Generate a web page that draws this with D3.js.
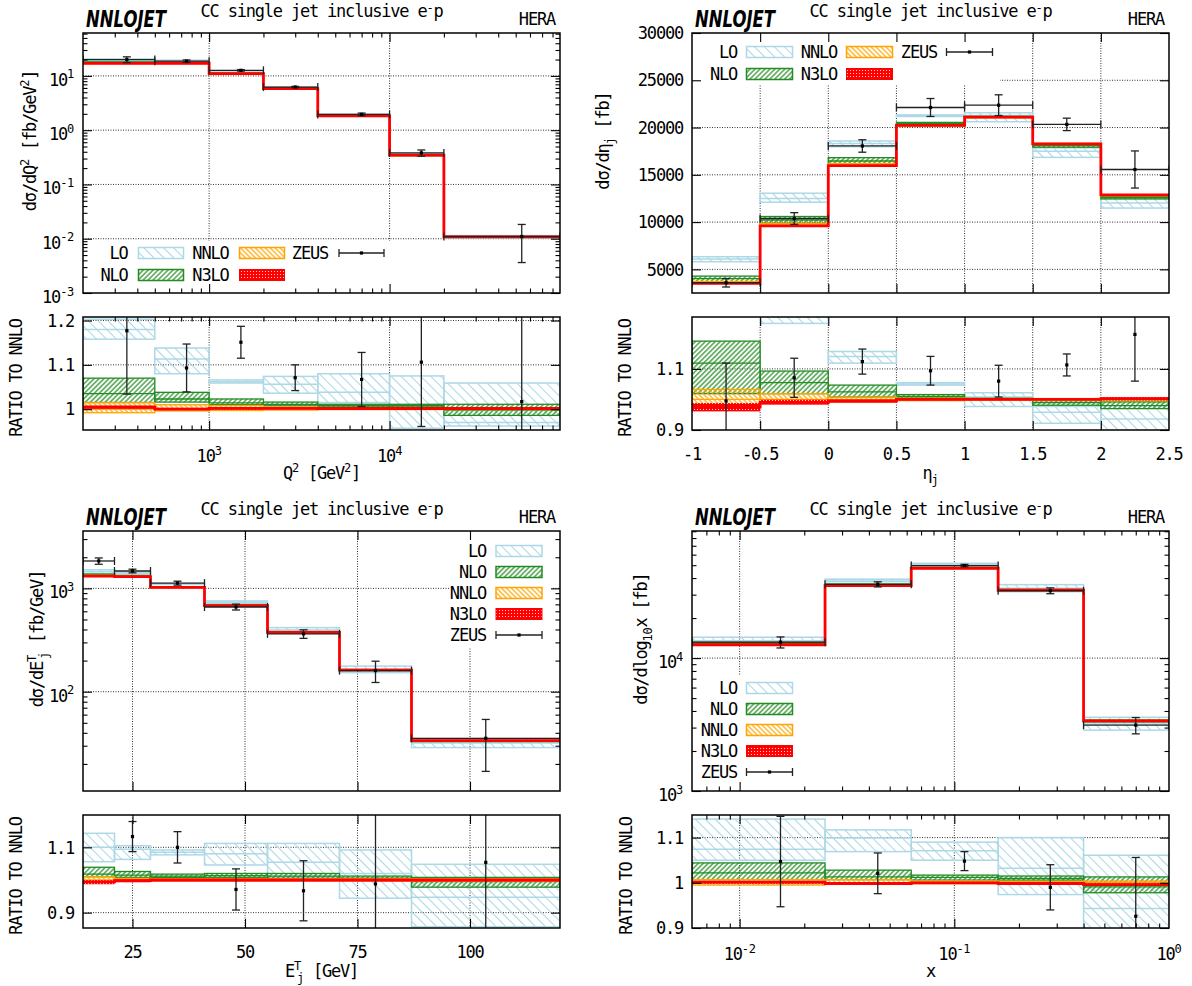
<!DOCTYPE html>
<html><head><meta charset="utf-8">
<script src="https://cdn.jsdelivr.net/npm/d3@7"></script>
<style>
body{margin:0;background:#fff;}
svg text{font-family:"DejaVu Sans Mono",monospace;font-size:17px;letter-spacing:-1.2px;fill:#000;}
</style></head><body>
<svg id="chart" width="1192" height="986"></svg>
<script>
// ================= DATA =================
// Q^2 distribution
const q2Edges=[200,500,1000,2000,4000,10000,20000,88000];
const q2NNLO=[17.0,17.1,11.0,5.82,1.83,0.345,0.0108];
const q2LO=[[1.158,1.180,1.203],[1.080,1.113,1.138],[1.059,1.062,1.066],[1.036,1.056,1.074],[1.015,1.038,1.080],[0.957,1.010,1.075],[0.962,0.970,1.059]];
const q2NLO=[[1.015,1.035,1.070],[1.016,1.023,1.038],[1.010,1.014,1.023],[1.0075,1.011,1.016],[1.005,1.008,1.011],[1.005,1.008,1.011],[0.986,0.998,1.011]];
const q2NNLOband=[[0.992,1,1.015],[0.996,1,1.010],[0.997,1,1.008],[0.998,1,1.005],[0.999,1,1.003],[0.999,1,1.003],[0.999,1,1.002]];
const q2N3LO=[[1.001,1.0045,1.008],[0.998,1.000,1.003],[0.999,1.002,1.004],[1.000,1.002,1.004],[1.000,1.0015,1.003],[1.000,1.0015,1.003],[1.000,1.0015,1.003]];
const q2Data=[1.177,1.093,1.151,1.071,1.067,1.106,1.017];
const q2Err=[0.143,0.054,0.036,0.029,0.061,0.145,0.68];
const q2YRange=[1e-3,61.7], q2RRange=[0.953,1.208];
const q2XTicks=[1e3,1e4], q2YTicks=[1e-3,1e-2,1e-1,1,10], q2RTicks=[1,1.1,1.2];

// eta distribution
const etaEdges=[-1,-0.5,0,0.5,1,1.5,2,2.5];
const etaNNLO=[3600,9690,16060,20220,21100,18270,12830];
const etaLO=[[1.614,1.694,1.761],[1.249,1.290,1.347],[1.119,1.141,1.157],[1.047,1.051,1.055],[0.977,1.008,1.022],[0.922,0.958,0.977],[0.895,0.936,0.997]];
const etaNLO=[[1.019,1.119,1.191],[1.019,1.055,1.093],[1.008,1.025,1.047],[1.005,1.010,1.016],[0.998,1.001,1.004],[0.981,0.990,0.997],[0.970,0.980,0.992]];
const etaNNLOband=[[0.986,1,1.033],[0.997,1,1.019],[0.992,1,1.008],[0.996,1,1.004],[0.997,1,1.003],[0.997,1,1.003],[0.996,1,1.004]];
const etaN3LO=[[0.961,0.975,0.988],[0.983,0.990,0.999],[0.990,0.995,0.999],[0.997,1.000,1.002],[0.998,1.000,1.002],[0.998,1.000,1.003],[0.997,1.003,1.008]];
const etaData=[0.995,1.071,1.124,1.094,1.060,1.113,1.213];
const etaErr=[0.124,0.064,0.041,0.047,0.052,0.036,0.153];
const etaYRange=[2500,30000], etaRRange=[0.9,1.27];
const etaXTicks=[-1,-0.5,0,0.5,1,1.5,2,2.5], etaYTicks=[5000,10000,15000,20000,25000,30000], etaRTicks=[0.9,1.1];

// E_T distribution
const etEdges=[14,21,29,41,55,71,87,120];
const etNNLO=[1324,1300,1022,680,375,162,33.6];
const etLO=[[1.056,1.100,1.143],[1.063,1.094,1.105],[1.077,1.085,1.092],[1.046,1.080,1.112],[1.010,1.054,1.112],[0.944,1.020,1.092],[0.857,0.947,1.048]];
const etNLO=[[1.010,1.018,1.039],[1.008,1.015,1.026],[1.008,1.012,1.018],[1.007,1.013,1.020],[1.005,1.012,1.020],[1.002,1.006,1.012],[0.978,0.995,1.008]];
const etNNLOband=[[0.995,1,1.010],[0.997,1,1.005],[0.997,1,1.004],[0.997,1,1.004],[0.997,1,1.004],[0.997,1,1.004],[0.996,1,1.004]];
const etN3LO=[[0.987,0.994,0.999],[0.993,0.998,1.002],[0.996,1.000,1.003],[0.996,1.000,1.003],[0.996,1.000,1.003],[0.996,1.000,1.003],[0.996,1.000,1.003]];
const etData=[1.390,1.133,1.100,0.971,0.967,0.988,1.054];
const etErr=[0.098,0.046,0.048,0.063,0.092,0.23,0.55];
const etYRange=[10.94,3590], etRRange=[0.853,1.199];
const etXTicks=[25,50,75,100], etYTicks=[100,1000], etRTicks=[0.9,1.1];

// x distribution
const xEdges=[0.006,0.025,0.063,0.16,0.4,1.0];
const xNNLO=[12580,35150,47400,32450,3380];
const xLO=[[1.050,1.074,1.141],[1.069,1.099,1.117],[1.050,1.071,1.090],[0.974,1.032,1.100],[0.850,0.943,1.061]];
const xNLO=[[1.007,1.022,1.044],[1.007,1.013,1.028],[1.006,1.012,1.017],[1.006,1.010,1.015],[0.978,0.991,1.013]];
const xNNLOband=[[0.995,1,1.007],[0.997,1,1.007],[0.998,1,1.004],[0.998,1,1.003],[0.997,1,1.004]];
const xN3LO=[[0.998,1.0015,1.004],[0.996,0.9985,1.001],[0.998,1.000,1.002],[0.996,0.9985,1.001],[0.993,0.996,0.999]];
const xData=[1.047,1.021,1.048,0.990,0.926];
const xErr=[0.100,0.045,0.021,0.050,0.130];
const xYRange=[1000,90400], xRRange=[0.9,1.15];
const xXTicks=[0.01,0.1,1], xYTicks=[1000,10000], xRTicks=[0.9,1,1.1];

const legendLabels=['LO','NLO','NNLO','N3LO','ZEUS'];

// ================= STYLE / LAYOUT =================
const orders=[
  {key:'LO',  color:'#add8e6', pat:'hLO',  bw:1.5, cw:1.5},
  {key:'NLO', color:'#228b22', pat:'hNLO', bw:1.3, cw:1.3},
  {key:'NNLO',color:'#ffa500', pat:'hNNLO',bw:1.3, cw:1.3},
  {key:'N3LO',color:'#ff0000', pat:'hN3LO',bw:0,   cw:2.8}
];
const dataColor='#222';
const COL={L:{x0:83,x1:560},R:{x0:692,x1:1169}};
const ROW={T:{t:33,b:293,rt:317,rb:430,off:0},B:{t:531,b:791,rt:815,rb:928,off:498}};

const svg=d3.select('#chart');
const defs=svg.append('defs');
function hatch(id,color,s,angle,w){
  const p=defs.append('pattern').attr('id',id).attr('patternUnits','userSpaceOnUse')
    .attr('width',s).attr('height',s).attr('patternTransform',`rotate(${angle})`);
  p.append('line').attr('x1',s/2).attr('y1',0).attr('x2',s/2).attr('y2',s).attr('stroke',color).attr('stroke-width',w);
}
hatch('hLO','#add8e6',7,-45,1.1);
hatch('hNLO','#228b22',3.5,45,1.2);
hatch('hNNLO','#ffa500',3.5,-45,1.2);
{
  const p=defs.append('pattern').attr('id','hN3LO').attr('patternUnits','userSpaceOnUse').attr('width',3).attr('height',3);
  p.append('rect').attr('width',3).attr('height',3).attr('fill','#ff0000');
  p.append('rect').attr('x',1).attr('y',1).attr('width',1).attr('height',1).attr('fill','#ffd0d0');
}

function rich(g,segs,supShift){
  const t=g.append('text');
  let cur=0;
  const sUp=supShift||-7.5;
  segs.forEach(([s,kind])=>{
    const sp=t.append('tspan').text(s);
    let target=0;
    if(kind==='sup'){target=sUp;}
    else if(kind==='sub'||kind==='subAfter'){target=4.5;}
    if(target-cur!==0) sp.attr('dy',target-cur);
    cur=target;
    if(kind){sp.attr('font-size',12).style('letter-spacing','-0.3px');}
    if(kind==='subAfter') sp.attr('dx',-4);
  });
  return t;
}
function logMinor(lo,hi){
  const out=[];
  for(let e=Math.floor(Math.log10(lo));e<=Math.ceil(Math.log10(hi));e++)
    for(let k=2;k<=9;k++){const v=k*Math.pow(10,e); if(v>lo*1.0001&&v<hi*0.9999) out.push(v);}
  return out;
}
const powLabel=v=>[['10'],[String(Math.round(Math.log10(v))),'sup']];
const titleSegs=[['CC single jet inclusive e'],['-','sup'],['p']];

const panels=[
 {col:'L',row:'T',edges:q2Edges,nnlo:q2NNLO,bands:{LO:q2LO,NLO:q2NLO,NNLO:q2NNLOband,N3LO:q2N3LO},data:q2Data,err:q2Err,
  xLog:true,yLog:true,yRange:q2YRange,rRange:q2RRange,xTicks:q2XTicks,yTicks:q2YTicks,rTicks:q2RTicks,
  xFmt:powLabel,yFmt:powLabel,rFmt:v=>[[String(v)]],
  ylab:[['dσ/dQ'],['2','sup'],[' [fb/GeV'],['2','sup'],[']']], ylabX:36, rlabX:22,
  xlab:[['Q'],['2','sup'],[' [GeV'],['2','sup'],[']']],
  leg:{bg:[83,241,398,293],textX:[127.5,228.5,328],rowY:[253,275],pos:i=>[Math.floor(i/2),i%2],gap:11,w:45}},
 {col:'R',row:'T',edges:etaEdges,nnlo:etaNNLO,bands:{LO:etaLO,NLO:etaNLO,NNLO:etaNNLOband,N3LO:etaN3LO},data:etaData,err:etaErr,
  xLog:false,yLog:false,yRange:etaYRange,rRange:etaRRange,xTicks:etaXTicks,yTicks:etaYTicks,rTicks:etaRTicks,
  xFmt:v=>[[String(v)]],yFmt:v=>[[String(v)]],rFmt:v=>[[String(v)]],
  ylab:[['dσ/dη'],['j','sub'],[' [fb]']], ylabX:609, rlabX:631,
  xlab:[['η'],['j','sub']],
  leg:{bg:[692,33,1000,85],textX:[737,837,937],rowY:[52,74],pos:i=>[Math.floor(i/2),i%2],gap:9.5,w:46}},
 {col:'L',row:'B',edges:etEdges,nnlo:etNNLO,bands:{LO:etLO,NLO:etNLO,NNLO:etNNLOband,N3LO:etN3LO},data:etData,err:etErr,
  xLog:false,yLog:true,yRange:etYRange,rRange:etRRange,xTicks:etXTicks,yTicks:etYTicks,rTicks:etRTicks,
  xFmt:v=>[[String(v)]],yFmt:powLabel,rFmt:v=>[[String(v)]],
  ylab:[['dσ/dE'],['T','sup'],['j','subAfter'],[' [fb/GeV]']], ylabX:43, rlabX:22,
  xlab:[['E'],['T','sup'],['j','subAfter'],[' [GeV]']],
  leg:{bg:[449,531,552,647],textX:[486],rowY:[551,572,593,614,635],pos:i=>[0,i],gap:10,w:46}},
 {col:'R',row:'B',edges:xEdges,nnlo:xNNLO,bands:{LO:xLO,NLO:xNLO,NNLO:xNNLOband,N3LO:xN3LO},data:xData,err:xErr,
  xLog:true,yLog:true,yRange:xYRange,rRange:xRRange,xTicks:xXTicks,yTicks:xYTicks,rTicks:xRTicks,
  xFmt:powLabel,yFmt:powLabel,rFmt:v=>[[String(v)]],
  ylab:[['dσ/dlog'],['10','sub'],['x [fb]']], ylabX:647, rlabX:632,
  xlab:[['x']],
  leg:{bg:[692,676,800,791],textX:[737],rowY:[688,709,730,751,772],pos:i=>[0,i],gap:9.5,w:46}}
];

let clipN=0;
function clip(x0,y0,x1,y1){
  const id='clip'+(clipN++);
  defs.append('clipPath').attr('id',id).append('rect').attr('x',x0).attr('y',y0).attr('width',x1-x0).attr('height',y1-y0);
  return `url(#${id})`;
}
function cleanAxis(g){g.select('.domain').remove();g.selectAll('line').attr('stroke','#000').attr('stroke-width',1.1);g.selectAll('text').remove();}

function drawTicks(g,xs,ys,xv,yv,xm,ym,x0,x1,t,b){
  const M=9,m=4.5;
  [[xv,M],[xm,m]].forEach(([vals,s])=>{
    if(!vals.length) return;
    g.append('g').attr('transform',`translate(0,${b})`).call(d3.axisBottom(xs).tickValues(vals).tickSize(-s)).call(cleanAxis);
    g.append('g').attr('transform',`translate(0,${t})`).call(d3.axisTop(xs).tickValues(vals).tickSize(-s)).call(cleanAxis);
  });
  [[yv,M],[ym,m]].forEach(([vals,s])=>{
    if(!vals.length) return;
    g.append('g').attr('transform',`translate(${x0},0)`).call(d3.axisLeft(ys).tickValues(vals).tickSize(-s)).call(cleanAxis);
    g.append('g').attr('transform',`translate(${x1},0)`).call(d3.axisRight(ys).tickValues(vals).tickSize(-s)).call(cleanAxis);
  });
}
function drawGrid(g,xs,ys,xv,yv,x0,x1,t,b){
  xv.forEach(v=>{const X=xs(v); if(X>x0+1&&X<x1-1) g.append('line').attr('x1',X).attr('x2',X).attr('y1',t).attr('y2',b)
    .attr('stroke','#333').attr('stroke-width',1).attr('stroke-dasharray','1,1.5');});
  yv.forEach(v=>{const Y=ys(v); if(Y>t+1&&Y<b-1) g.append('line').attr('x1',x0).attr('x2',x1).attr('y1',Y).attr('y2',Y)
    .attr('stroke','#333').attr('stroke-width',1).attr('stroke-dasharray','1,1.5');});
}
function drawBands(g,P,xs,ys,main){
  const val=(i,r)=>main?P.nnlo[i]*r:r;
  orders.forEach(o=>{
    const arr=P.bands[o.key];
    const bg=g.append('g');
    arr.forEach((b,i)=>{
      const xa=xs(P.edges[i]),xb=xs(P.edges[i+1]);
      const ylo=ys(val(i,b[0])),yhi=ys(val(i,b[2]));
      bg.append('rect').attr('x',xa).attr('y',yhi).attr('width',xb-xa).attr('height',Math.max(ylo-yhi,0.6))
        .attr('fill',`url(#${o.pat})`).attr('stroke',o.bw?o.color:'none').attr('stroke-width',o.bw);
      if(o.key!=='N3LO'){
        const yc=ys(val(i,b[1]));
        bg.append('line').attr('x1',xa).attr('x2',xb).attr('y1',yc).attr('y2',yc).attr('stroke',o.color).attr('stroke-width',o.cw);
      }
    });
    if(o.key==='N3LO'){
      const pts=arr.map((b,i)=>[P.edges[i],val(i,b[1])]);
      pts.push([P.edges[arr.length],val(arr.length-1,arr[arr.length-1][1])]);
      bg.append('path').attr('d',d3.line().x(d=>xs(d[0])).y(d=>ys(d[1])).curve(d3.curveStepAfter)(pts))
        .attr('fill','none').attr('stroke',o.color).attr('stroke-width',o.cw);
    }
  });
}
function drawData(g,P,xs,ys,main){
  const cap=4;
  P.data.forEach((d,i)=>{
    const f=main?P.nnlo[i]:1;
    const v=d*f,e=P.err[i]*f;
    const xa=xs(P.edges[i]),xb=xs(P.edges[i+1]),xc=xs((P.edges[i]+P.edges[i+1])/2);
    const yv=ys(v),yl=ys(Math.max(v-e,1e-9)),yh=ys(v+e);
    const dg=g.append('g').attr('stroke',dataColor).attr('stroke-width',1.3);
    dg.append('line').attr('x1',xc).attr('x2',xc).attr('y1',yl).attr('y2',yh);
    dg.append('line').attr('x1',xc-cap).attr('x2',xc+cap).attr('y1',yl).attr('y2',yl);
    dg.append('line').attr('x1',xc-cap).attr('x2',xc+cap).attr('y1',yh).attr('y2',yh);
    if(main){
      dg.append('line').attr('x1',xa).attr('x2',xb).attr('y1',yv).attr('y2',yv);
      dg.append('line').attr('x1',xa).attr('x2',xa).attr('y1',yv-cap).attr('y2',yv+cap);
      dg.append('line').attr('x1',xb).attr('x2',xb).attr('y1',yv-cap).attr('y2',yv+cap);
    }
    g.append('rect').attr('x',xc-1.6).attr('y',yv-1.6).attr('width',3.2).attr('height',3.2).attr('fill','#000');
  });
}
function drawLegend(g,L){
  g.append('rect').attr('x',L.bg[0]).attr('y',L.bg[1]).attr('width',L.bg[2]-L.bg[0]).attr('height',L.bg[3]-L.bg[1]).attr('fill','#fff');
}
function drawLegendItems(g,L){
  legendLabels.forEach((lab,i)=>{
    const [c,r]=L.pos(i);
    const tx=L.textX[c],cy=L.rowY[r];
    g.append('text').attr('x',tx).attr('y',cy+6.2).attr('text-anchor','end').text(lab);
    const sx0=tx+L.gap,sx1=sx0+L.w;
    if(i<4){
      const o=orders[i];
      g.append('rect').attr('x',sx0).attr('y',cy-5.5).attr('width',L.w).attr('height',11)
        .attr('fill',`url(#${o.pat})`).attr('stroke',o.color).attr('stroke-width',o.key==='N3LO'?1:1.5);
    } else {
      const dg=g.append('g').attr('stroke',dataColor).attr('stroke-width',1.3);
      dg.append('line').attr('x1',sx0).attr('x2',sx1).attr('y1',cy).attr('y2',cy);
      dg.append('line').attr('x1',sx0).attr('x2',sx0).attr('y1',cy-4).attr('y2',cy+4);
      dg.append('line').attr('x1',sx1).attr('x2',sx1).attr('y1',cy-4).attr('y2',cy+4);
      g.append('rect').attr('x',(sx0+sx1)/2-1.6).attr('y',cy-1.6).attr('width',3.2).attr('height',3.2).attr('fill','#000');
    }
  });
}

panels.forEach(P=>{
  const {x0,x1}=COL[P.col]; const R=ROW[P.row];
  const xs=(P.xLog?d3.scaleLog():d3.scaleLinear()).domain([P.edges[0],P.edges[P.edges.length-1]]).range([x0,x1]);
  const ys=(P.yLog?d3.scaleLog():d3.scaleLinear()).domain(P.yRange).range([R.b,R.t]);
  const rs=d3.scaleLinear().domain(P.rRange).range([R.rb,R.rt]);
  const xm=P.xLog?logMinor(xs.domain()[0],xs.domain()[1]):[];
  const ym=P.yLog?logMinor(P.yRange[0],P.yRange[1]):[];
  const g=svg.append('g');

  // ---- header texts
  const cx=(x0+x1)/2;
  g.append('text').attr('x',x0+3).attr('y',R.off+27).attr('textLength',80).attr('lengthAdjust','spacingAndGlyphs')
    .style('font-family','"DejaVu Sans",sans-serif').style('font-weight','bold').style('font-style','italic')
    .style('font-size','23px').style('letter-spacing','0px').text('NNLOJET');
  rich(g,titleSegs,-5.5).attr('x',cx).attr('y',R.off+17).attr('text-anchor','middle');
  g.append('text').attr('x',x1-5).attr('y',R.off+25).attr('text-anchor','end').text('HERA');

  // ---- main panel
  const mg=g.append('g');
  drawGrid(mg,xs,ys,P.xTicks,P.yTicks,x0,x1,R.t,R.b);
  drawLegend(mg,P.leg);
  const mc=mg.append('g').attr('clip-path',clip(x0,R.t,x1,R.b));
  drawBands(mc,P,xs,ys,true);
  drawData(mc,P,xs,ys,true);
  drawTicks(mg,xs,ys,P.xTicks.filter(v=>v>xs.domain()[0]&&v<xs.domain()[1]),P.yTicks,xm,ym,x0,x1,R.t,R.b);
  mg.append('rect').attr('x',x0).attr('y',R.t).attr('width',x1-x0).attr('height',R.b-R.t).attr('fill','none').attr('stroke','#000').attr('stroke-width',1.5);
  drawLegendItems(mg,P.leg);
  P.yTicks.forEach(v=>{
    const pw=P.yLog;
    rich(mg,P.yFmt(v)).attr('x',x0-9).attr('y',ys(v)+(pw?10:6.2)).attr('text-anchor','end');
  });
  rich(mg,P.ylab).attr('text-anchor','middle').attr('transform',`translate(${P.ylabX},${R.off+141}) rotate(-90)`);

  // ---- ratio panel
  const rg=g.append('g');
  drawGrid(rg,xs,rs,P.xTicks,P.rTicks,x0,x1,R.rt,R.rb);
  const rc=rg.append('g').attr('clip-path',clip(x0,R.rt,x1,R.rb));
  drawBands(rc,P,xs,rs,false);
  drawData(rc,P,xs,rs,false);
  drawTicks(rg,xs,rs,P.xTicks.filter(v=>v>xs.domain()[0]&&v<xs.domain()[1]),P.rTicks,xm,[],x0,x1,R.rt,R.rb);
  rg.append('rect').attr('x',x0).attr('y',R.rt).attr('width',x1-x0).attr('height',R.rb-R.rt).attr('fill','none').attr('stroke','#000').attr('stroke-width',1.5);
  P.rTicks.forEach(v=>{
    rich(rg,P.rFmt(v)).attr('x',x0-9).attr('y',rs(v)+6.2).attr('text-anchor','end');
  });
  P.xTicks.forEach(v=>{
    rich(rg,P.xFmt(v)).attr('x',xs(v)).attr('y',R.rb+(P.xLog?32:30)).attr('text-anchor','middle');
  });
  rich(rg,[['RATIO TO NNLO']]).attr('text-anchor','middle').attr('transform',`translate(${P.rlabX},${R.off+378}) rotate(-90)`);
  rich(rg,P.xlab).attr('x',cx).attr('y',R.rb+49).attr('text-anchor','middle');
});
</script>
</body></html>
